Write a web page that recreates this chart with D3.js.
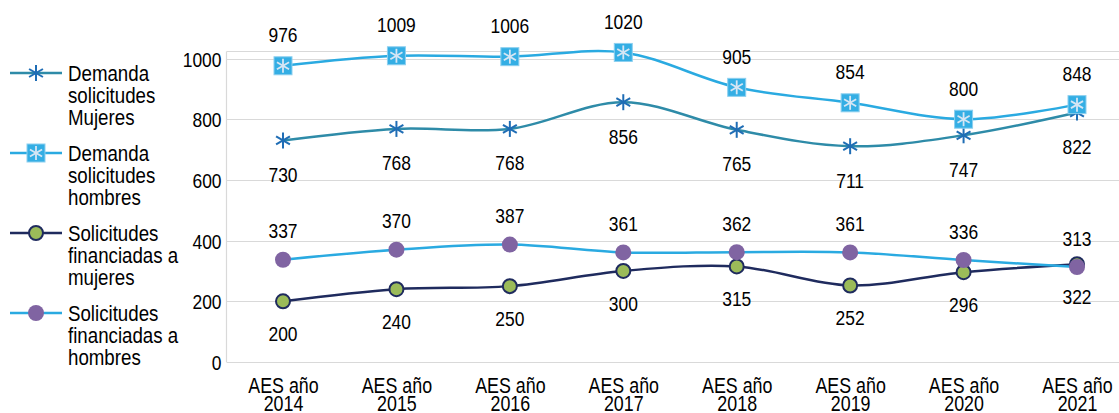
<!DOCTYPE html>
<html><head><meta charset="utf-8">
<script src="https://cdn.jsdelivr.net/npm/d3@7"></script>
<style>body{margin:0;background:#fff}svg{display:block}text{font-family:"Liberation Sans",Arial,sans-serif}</style>
</head><body>
<svg id="c" width="1119" height="413"></svg>
<script>
const categories = ["2014","2015","2016","2017","2018","2019","2020","2021"];
const categoryPrefix = "AES año";
const demandaMujeres = [730,768,768,856,765,711,747,822];
const demandaHombres = [976,1009,1006,1020,905,854,800,848];
const financiadasMujeres = [200,240,250,300,315,252,296,322];
const financiadasHombres = [337,370,387,361,362,361,336,313];
const yTicks = [0,200,400,600,800,1000];
const legendLabels = [
  ["Demanda","solicitudes","Mujeres"],
  ["Demanda","solicitudes","hombres"],
  ["Solicitudes","financiadas a","mujeres"],
  ["Solicitudes","financiadas a","hombres"]
];

const svg = d3.select("#c");
const x = d3.scalePoint().domain(categories).range([283,1077]);
const y = d3.scaleLinear().domain([0,1000]).range([362,58.5]);
const plotL = 226.5, plotR = 1134, plotT = 51.5, plotB = 362;
const FS = 21, SX = 0.83;

// text helper: horizontally condensed text anchored at (tx, ty)
function ctext(parent, tx, ty, str, size, anchor, sx){
  const g = parent.append("g").attr("transform",`translate(${tx},${ty}) scale(${sx||SX},1)`);
  return g.append("text").attr("x",0).attr("y",0).attr("font-size",size).attr("fill","#000")
    .attr("text-anchor",anchor||"middle").text(str);
}

// gridlines
svg.append("g").selectAll("line").data(yTicks.filter(d=>d>0)).join("line")
  .attr("x1",plotL).attr("x2",plotR).attr("y1",d=>Math.round(y(d))+0.5).attr("y2",d=>Math.round(y(d))+0.5)
  .attr("stroke","#d9d9d9").attr("stroke-width",1.2);
svg.append("line").attr("x1",plotL).attr("x2",plotR).attr("y1",plotT).attr("y2",plotT).attr("stroke","#d9d9d9").attr("stroke-width",1.2);
svg.append("line").attr("x1",plotL).attr("x2",plotL).attr("y1",plotT).attr("y2",plotB).attr("stroke","#d9d9d9").attr("stroke-width",1.2);
svg.append("line").attr("x1",plotL).attr("x2",plotR).attr("y1",plotB+0.5).attr("y2",plotB+0.5).attr("stroke","#d9d9d9").attr("stroke-width",1.2);

// y axis labels
const yAxis = d3.axisLeft(y).tickValues(yTicks).tickSize(0).tickPadding(5).tickFormat(d3.format("d"));
const ya = svg.append("g").attr("transform",`translate(${plotL},0)`).call(yAxis);
ya.select(".domain").remove();
ya.selectAll("text").attr("font-size",FS).attr("fill","#000").attr("dy",null).attr("y",0.36*FS)
  .attr("x",-5/SX).attr("transform",`scale(${SX},1)`)
  .attr("font-family","Liberation Sans, Arial, sans-serif");

// x axis labels
const xAxis = d3.axisBottom(x).tickSize(0).tickPadding(0).tickFormat(()=> "");
const xa = svg.append("g").attr("transform",`translate(0,${plotB})`).call(xAxis);
xa.select(".domain").remove();
xa.selectAll(".tick").each(function(d){
  const tk = d3.select(this);
  ctext(tk, 0, 30.5, categoryPrefix, 21.5);
  ctext(tk, 0, 49, d, 21.5);
});

const curve = d3.curveCatmullRom.alpha(0.5);
function linePath(vals){ return d3.line().x((d,i)=>x(categories[i])).y(d=>y(d)).curve(curve)(vals); }

const series = [
  {vals:demandaMujeres, color:"#2E8BA8", marker:"star", dy:34},
  {vals:demandaHombres, color:"#2AAAE1", marker:"square", dy:-31},
  {vals:financiadasMujeres, color:"#1F2B5E", marker:"green", dy:32},
  {vals:financiadasHombres, color:"#2AAAE1", marker:"purple", dy:-29}
];

function drawMarker(g, type, cx, cy){
  if(type==="star"){
    const r=8;
    const m=g.append("g").attr("transform",`translate(${cx},${cy})`).attr("stroke","#1F6DB5").attr("stroke-width",2);
    [0,60,120].forEach(a=>{
      const rad=a*Math.PI/180;
      m.append("line").attr("x1",-r*Math.sin(rad)).attr("y1",-r*Math.cos(rad)).attr("x2",r*Math.sin(rad)).attr("y2",r*Math.cos(rad));
    });
  } else if(type==="square"){
    const s=9;
    const m=g.append("g").attr("transform",`translate(${cx},${cy})`);
    m.append("rect").attr("x",-s).attr("y",-s).attr("width",2*s).attr("height",2*s).attr("fill","#34AEE4").attr("stroke","#8CCFEF").attr("stroke-width",1);
    const r=7;
    [0,60,120].forEach(a=>{
      const rad=a*Math.PI/180;
      m.append("line").attr("x1",-r*Math.sin(rad)).attr("y1",-r*Math.cos(rad)).attr("x2",r*Math.sin(rad)).attr("y2",r*Math.cos(rad)).attr("stroke","#D6E6F4").attr("stroke-width",1.8);
    });
  } else if(type==="green"){
    g.append("circle").attr("cx",cx).attr("cy",cy).attr("r",7).attr("fill","#9BBB59").attr("stroke","#1F2B5E").attr("stroke-width",2);
  } else {
    g.append("circle").attr("cx",cx).attr("cy",cy).attr("r",8).attr("fill","#8064A2");
  }
}

series.forEach(s=>{
  svg.append("path").attr("d",linePath(s.vals)).attr("fill","none").attr("stroke",s.color).attr("stroke-width",2.5);
});
series.forEach(s=>{
  const g=svg.append("g");
  s.vals.forEach((v,i)=>drawMarker(g,s.marker,x(categories[i]),y(v)));
});
series.forEach(s=>{
  const g=svg.append("g");
  s.vals.forEach((v,i)=>ctext(g, x(categories[i]), y(v)+s.dy+0.36*FS, v, FS));
});

// legend
const legY = [73,153,233,313];
legendLabels.forEach((lbl,i)=>{
  const s=series[i];
  const g=svg.append("g");
  g.append("line").attr("x1",10).attr("x2",62).attr("y1",legY[i]).attr("y2",legY[i]).attr("stroke",s.color).attr("stroke-width",2.5);
  drawMarker(g,s.marker,36,legY[i]);
  lbl.forEach((l,j)=>ctext(g, 68, legY[i]+7.5+j*22, l, 21.5, "start", 0.87));
});
</script>
</body></html>
